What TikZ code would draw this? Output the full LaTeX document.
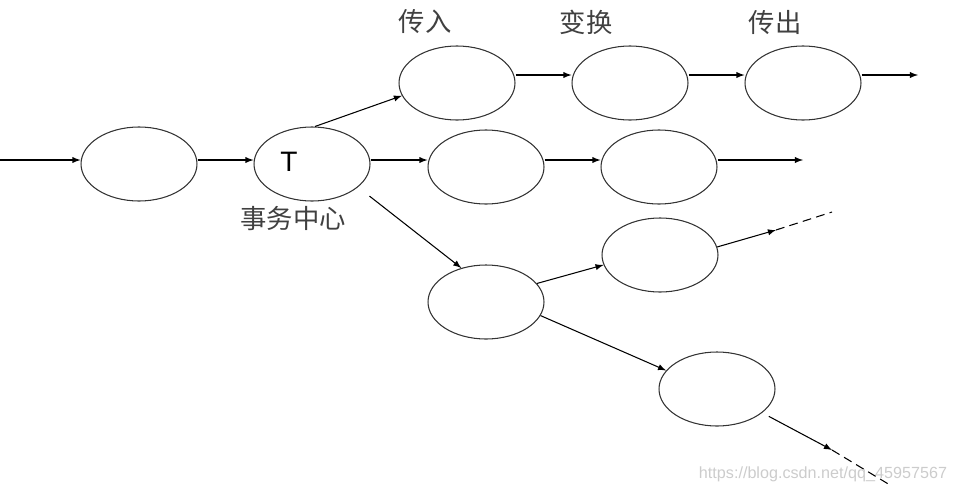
\documentclass[tikz,border=0pt]{standalone}
\usepackage{fontspec}
\setmainfont{Liberation Sans}
\newfontfamily\cjk{Noto Sans CJK SC}
\usepackage{tikz}
\usetikzlibrary{arrows,shapes,positioning}
\tikzstyle{arrow} = [->, >=latex, line width=0.6pt]
\tikzstyle{dashend} = [dashed, line width=0.6pt, dash pattern=on 5pt off 3pt]
\tikzstyle{stage} = [shape = ellipse, draw, line width=0.6pt, color=black!80, minimum width=2.32cm, minimum height=1.48cm, inner sep=0pt]
\tikzstyle{stageLabel} = [font=\cjk\fontsize{15}{17}\selectfont, text=black!75]

\begin{document}
\begin{tikzpicture}[x=0.02cm, y=-0.02cm]
					\useasboundingbox (0,0) rectangle (954,494);
					\node (start) [stage] at (139,164) {};
					\node (center) [stage] at (312,164) {};
					\node (centerT) at (289,162) {\fontsize{16}{18}\selectfont T};
					\node (input) [stage] at (457,83) {};
					\node (transform) [stage] at (630,83) {};
					\node (output) [stage] at (803,83) {};
					\node (midA) [stage] at (486,167) {};
					\node (midB) [stage] at (659,167) {};
					\node (low) [stage] at (486,302) {};
					\node (lowUp) [stage] at (660,255) {};
					\node (lowDown) [stage] at (717,389) {};
					% labels
					\node (inputLabel) [stageLabel] at (425,22) {传入};
					\node (transformLabel) [stageLabel] at (586,22) {变换};
					\node (outputLabel) [stageLabel] at (775,22) {传出};
					\node (centerLabel) [stageLabel] at (293,219) {事务中心};
					\node (mark) [font=\fontsize{9.2}{11}\selectfont, text=black!20] at (823,474) {https://blog.csdn.net/qq\_45957567};
					% free ends
					\coordinate (inFlow) at (0,160);
					\coordinate (outFlow) at (918,75);
					\coordinate (midFlow) at (803,160);
					\coordinate (upTip) at (776,230);
					\coordinate (upEnd) at (832,212);
					\coordinate (downTip) at (832,450);
					\coordinate (downEnd) at (890,485);
					% connectors
					\draw[arrow] (inFlow) -- (start.west |- inFlow);
					\draw[arrow] (start.east |- inFlow) -- (center.west |- inFlow);
					\draw[arrow] (center.north) ++(3,0) -- (input.193);
					\draw[arrow] (input.east |- outFlow) -- (transform.west |- outFlow);
					\draw[arrow] (transform.east |- outFlow) -- (output.west |- outFlow);
					\draw[arrow] (output.east |- outFlow) -- (outFlow);
					\draw[arrow] (center.east |- midFlow) -- (midA.west |- midFlow);
					\draw[arrow] (midA.east |- midFlow) -- (midB.west |- midFlow);
					\draw[arrow] (midB.east |- midFlow) -- (midFlow);
					\draw[arrow] (center.-30) ++(14,7) -- (low.126);
					\draw[arrow] (low.20) -- (lowUp.190);
					\draw[arrow] (lowUp.8) -- (upTip);
					\draw[dashend] (upTip) -- (upEnd);
					\draw[arrow] (low.-14) -- (lowDown.160);
					\draw[arrow] (lowDown.-27) ++(6,4) -- (downTip);
					\draw[dashend] (downTip) -- (downEnd);
					\end{tikzpicture}
\end{document}
